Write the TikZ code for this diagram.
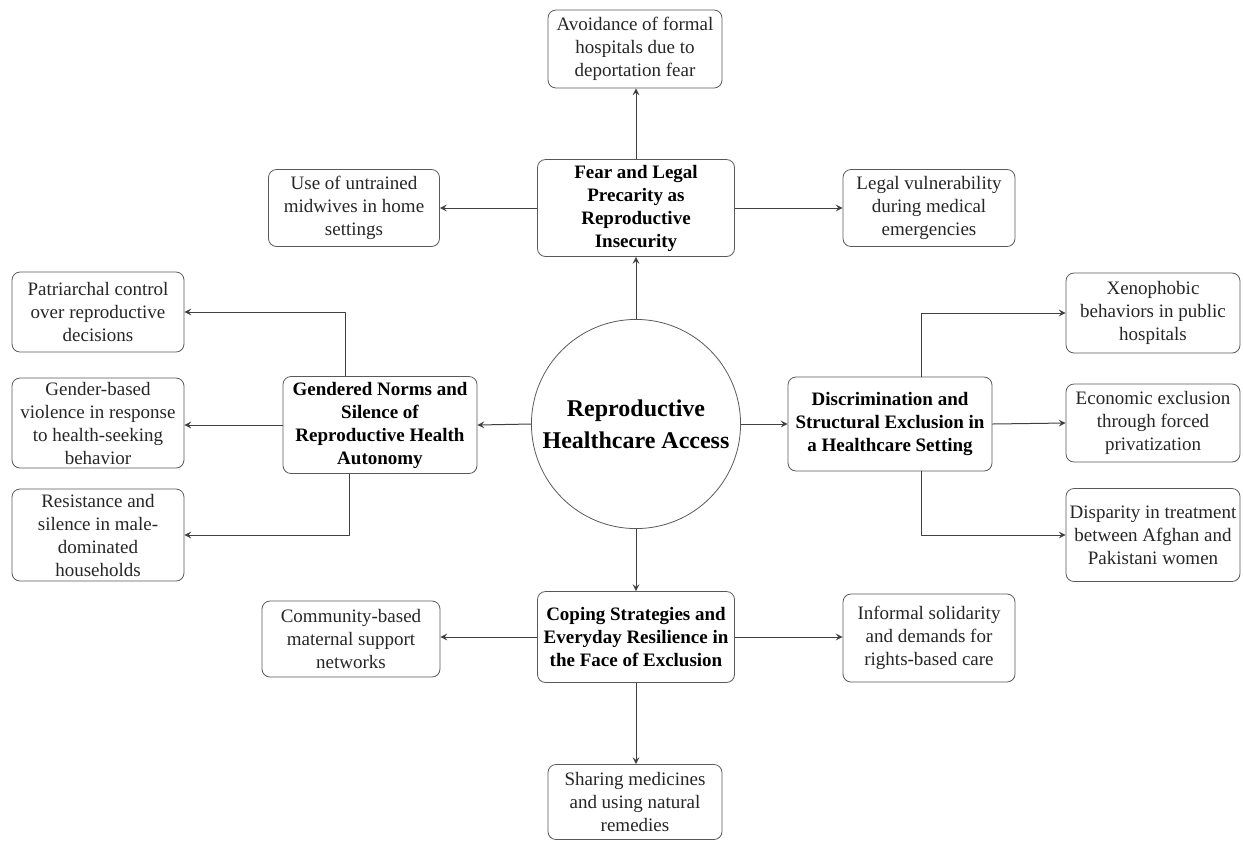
\documentclass[tikz,border=0pt]{standalone}
\usepackage{fontspec}
\setmainfont{Liberation Serif}
\usetikzlibrary{arrows}
\begin{document}
\begin{tikzpicture}[x=0.5pt, y=-0.5pt, >=stealth, line join=round,
	leaf/.style={draw=black!65, rounded corners=4pt, align=center, inner sep=1pt, text=black!85,
		font=\fontsize{9.5}{11.5}\selectfont},
	theme/.style={leaf, font=\fontsize{9.5}{11.5}\selectfont\bfseries, text=black},
	hub/.style={draw=black!65, circle, minimum size=103pt, align=center,
		font=\fontsize{12}{16}\selectfont\bfseries},
	link/.style={->, draw=black!75, line width=0.5pt}]
	\useasboundingbox (0,0) rectangle (1243,843);
	% centre
	\node[hub] (hub) at (636,424) {Reproductive\\Healthcare Access};
	% fear and legal precarity
	\node[theme, minimum width=98.5pt, minimum height=48.5pt] (fear) at (636,208) {Fear and Legal\\Precarity as\\Reproductive\\Insecurity};
	\node[leaf, minimum width=87pt, minimum height=39pt] (avoid) at (635,49) {Avoidance of formal\\hospitals due to\\deportation fear};
	\node[leaf, minimum width=85.5pt, minimum height=38.5pt] (midwife) at (354,208) {Use of untrained\\midwives in home\\settings};
	\node[leaf, minimum width=86pt, minimum height=38.5pt] (legal) at (929,208) {Legal vulnerability\\during medical\\emergencies};
	% gendered norms
	\node[theme, minimum width=97pt, minimum height=48.5pt] (gender) at (380,425) {Gendered Norms and\\Silence of\\Reproductive Health\\Autonomy};
	\node[leaf, minimum width=86pt, minimum height=40pt] (patri) at (98,312) {Patriarchal control\\over reproductive\\decisions};
	\node[leaf, minimum width=86pt, minimum height=45pt] (violence) at (98,423) {Gender-based\\violence in response\\to health-seeking\\behavior};
	\node[leaf, minimum width=86pt, minimum height=46pt] (resist) at (98,535) {Resistance and\\silence in male-\\dominated\\households};
	% discrimination
	\node[theme, minimum width=102pt, minimum height=47pt] (discr) at (890,424) {Discrimination and\\Structural Exclusion in\\a Healthcare Setting};
	\node[leaf, minimum width=87pt, minimum height=40pt] (xeno) at (1153,313) {Xenophobic\\behaviors in public\\hospitals};
	\node[leaf, minimum width=87pt, minimum height=39pt] (econ) at (1153,423) {Economic exclusion\\through forced\\privatization};
	\node[leaf, minimum width=87pt, minimum height=46.5pt] (dispar) at (1153,535) {Disparity in treatment\\between Afghan and\\Pakistani women};
	% coping strategies
	\node[theme, minimum width=98.5pt, minimum height=45.5pt] (coping) at (636,637) {Coping Strategies and\\Everyday Resilience in\\the Face of Exclusion};
	\node[leaf, minimum width=89pt, minimum height=38pt] (community) at (351,639) {Community-based\\maternal support\\networks};
	\node[leaf, minimum width=86pt, minimum height=44pt] (solidar) at (929,638) {Informal solidarity\\and demands for\\rights-based care};
	\node[leaf, minimum width=87pt, minimum height=37.5pt] (sharing) at (635,802) {Sharing medicines\\and using natural\\remedies};
	% connectors
	\draw[link] (hub.north) -- (hub.north |- fear.south);
	\draw[link] (fear.north) -- (fear.north |- avoid.south);
	\draw[link] (fear.west) -- (midwife.east);
	\draw[link] (fear.east) -- (legal.west);
	\draw[link] (hub.west) -- (gender.east);
	\draw[link] ([xshift=-17.5pt]gender.north) |- (patri.east);
	\draw[link] (gender.west) -- (gender.west -| violence.east);
	\draw[link] ([xshift=-15.5pt]gender.south) |- (resist.east);
	\draw[link] (hub.east) -- (discr.west);
	\draw[link] ([xshift=15.5pt]discr.north) |- (xeno.west);
	\draw[link] (discr.east) -- (econ.west);
	\draw[link] ([xshift=15.5pt]discr.south) |- (dispar.west);
	\draw[link] (hub.south) -- (coping.north);
	\draw[link] (coping.west) -- (coping.west -| community.east);
	\draw[link] (coping.east) -- (coping.east -| solidar.west);
	\draw[link] (coping.south) -- (coping.south |- sharing.north);
\end{tikzpicture}
\end{document}
